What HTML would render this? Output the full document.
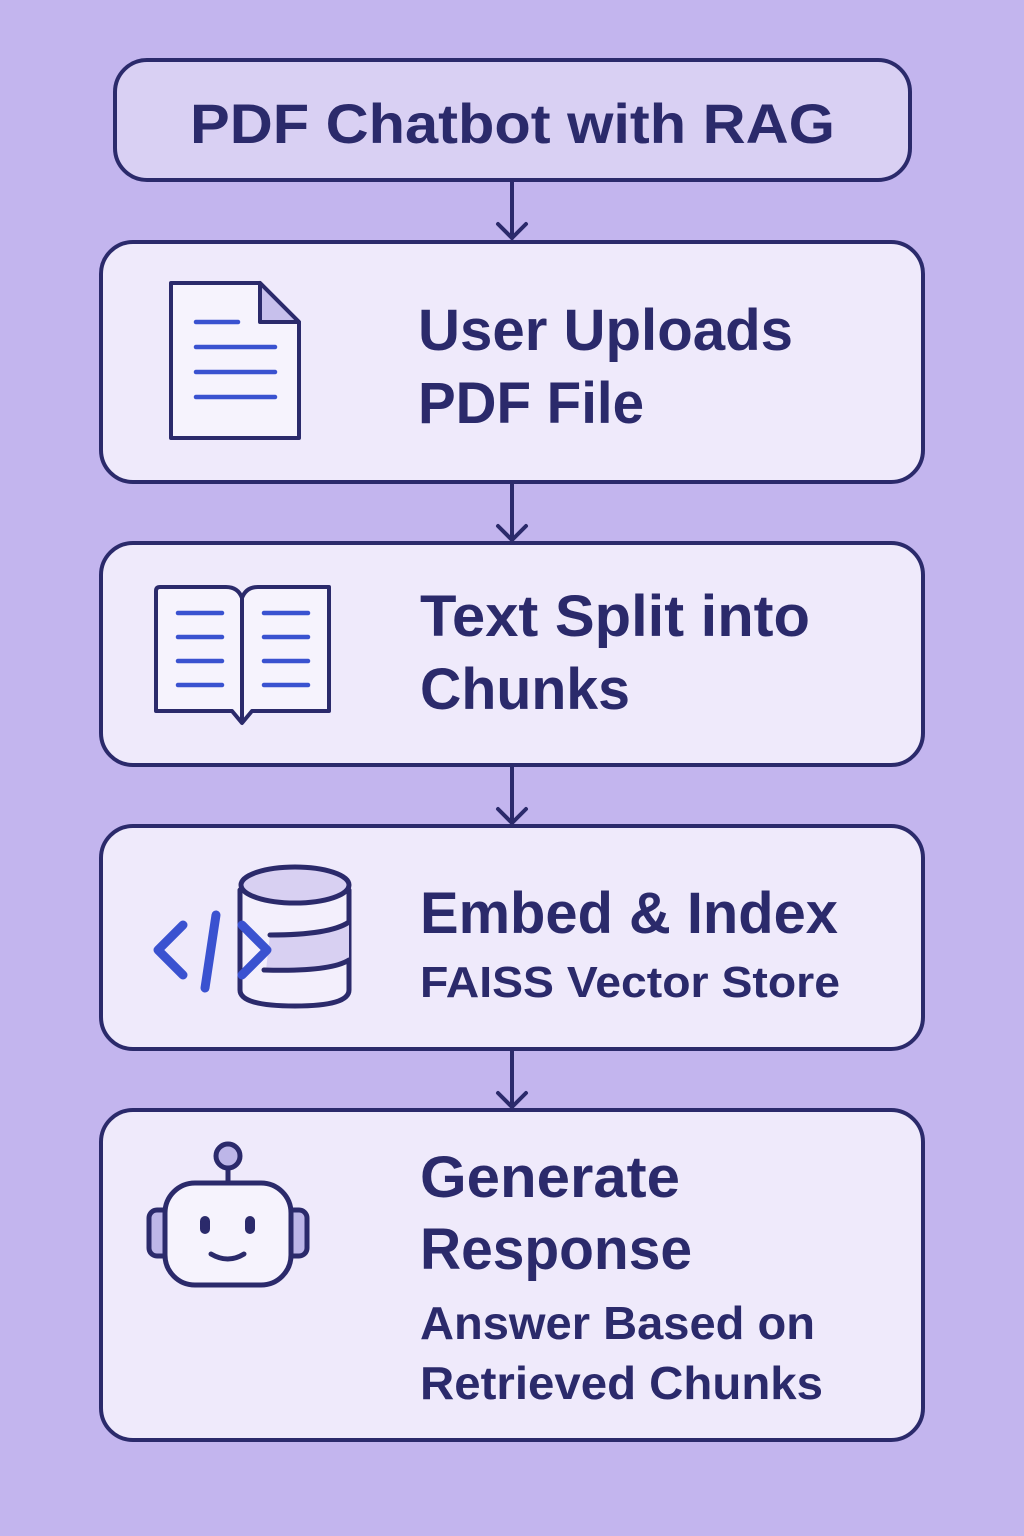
<!DOCTYPE html>
<html><head><meta charset="utf-8"><style>html,body{margin:0;padding:0;background:#c3b5ee}svg{display:block}</style></head>
<body>
<svg width="1024" height="1536" viewBox="0 0 1024 1536" xmlns="http://www.w3.org/2000/svg" font-family="Liberation Sans, sans-serif" font-weight="bold" fill="#2b2a6b">
<rect width="1024" height="1536" fill="#c3b5ee"/>
<g stroke="#2b2a6b" stroke-width="4" fill="none" stroke-linecap="round" stroke-linejoin="round">
<line x1="512" y1="180" x2="512" y2="238"/><polyline points="498,224 512,238 526,224"/>
<line x1="512" y1="482" x2="512" y2="540"/><polyline points="498,526 512,540 526,526"/>
<line x1="512" y1="765" x2="512" y2="823"/><polyline points="498,809 512,823 526,809"/>
<line x1="512" y1="1049" x2="512" y2="1107"/><polyline points="498,1093 512,1107 526,1093"/>
</g>
<g stroke="#2b2a6b" stroke-width="4">
<rect x="115" y="60" width="795" height="120" rx="32" fill="#d9d0f3"/>
<rect x="101" y="242" width="822" height="240" rx="32" fill="#efeafb"/>
<rect x="101" y="543" width="822" height="222" rx="32" fill="#efeafb"/>
<rect x="101" y="826" width="822" height="223" rx="32" fill="#efeafb"/>
<rect x="101" y="1110" width="822" height="330" rx="32" fill="#efeafb"/>
</g>
<text x="190" y="143" font-size="56" textLength="645" lengthAdjust="spacingAndGlyphs">PDF Chatbot with RAG</text>
<text x="418" y="350" font-size="58" textLength="375" lengthAdjust="spacingAndGlyphs">User Uploads</text>
<text x="418" y="423" font-size="58" textLength="226" lengthAdjust="spacingAndGlyphs">PDF File</text>
<text x="420" y="636" font-size="58" textLength="390" lengthAdjust="spacingAndGlyphs">Text Split into</text>
<text x="420" y="709" font-size="58" textLength="210" lengthAdjust="spacingAndGlyphs">Chunks</text>
<text x="420" y="933" font-size="58" textLength="418" lengthAdjust="spacingAndGlyphs">Embed &amp; Index</text>
<text x="420" y="997" font-size="44" textLength="420" lengthAdjust="spacingAndGlyphs">FAISS Vector Store</text>
<text x="420" y="1197" font-size="58" textLength="260" lengthAdjust="spacingAndGlyphs">Generate</text>
<text x="420" y="1269" font-size="58" textLength="272" lengthAdjust="spacingAndGlyphs">Response</text>
<text x="420" y="1339" font-size="46" textLength="395" lengthAdjust="spacingAndGlyphs">Answer Based on</text>
<text x="420" y="1399" font-size="46" textLength="403" lengthAdjust="spacingAndGlyphs">Retrieved Chunks</text>
<!-- doc icon -->
<g stroke="#2b2a6b" stroke-width="4" stroke-linejoin="round" stroke-linecap="round">
<path d="M171,283 H260 L299,322 V438 H171 Z" fill="#f6f3fd"/>
<path d="M260,283 V322 H299 Z" fill="#c7c0ec"/>
</g>
<g stroke="#3a52d0" stroke-width="4.5" stroke-linecap="round">
<line x1="196" y1="322" x2="238" y2="322"/><line x1="196" y1="347" x2="275" y2="347"/><line x1="196" y1="372" x2="275" y2="372"/><line x1="196" y1="397" x2="275" y2="397"/>
</g>
<!-- book icon -->
<g stroke="#2b2a6b" stroke-width="4" stroke-linejoin="round" fill="#f6f3fd">
<path d="M160,587 H226 Q238,587 242,598 Q246,587 258,587 H329 V711 H252 L242,723 L232,711 H156 V591 Q156,587 160,587 Z"/>
<line x1="242" y1="598" x2="242" y2="720"/>
</g>
<g stroke="#3a52d0" stroke-width="4.5" stroke-linecap="round">
<line x1="178" y1="613" x2="222" y2="613"/><line x1="178" y1="637" x2="222" y2="637"/><line x1="178" y1="661" x2="222" y2="661"/><line x1="178" y1="685" x2="222" y2="685"/>
<line x1="264" y1="613" x2="308" y2="613"/><line x1="264" y1="637" x2="308" y2="637"/><line x1="264" y1="661" x2="308" y2="661"/><line x1="264" y1="685" x2="308" y2="685"/>
</g>
<!-- database icon -->
<g stroke="#2b2a6b" stroke-width="5" fill="none" stroke-linecap="round">
<path d="M240,890 V990 Q240,1006 295,1006 Q349,1006 349,990 V890" fill="#f3effc"/>
<path d="M270,935 Q330,935 349,922 V962 Q330,972 266,970 Z" fill="#d8d0f2" stroke="none"/>
<ellipse cx="295" cy="885" rx="54" ry="18" fill="#d8d0f2"/>
<path d="M270,935 Q330,935 349,922"/>
<path d="M264,970 Q330,972 349,960"/>
</g>
<g stroke="#3a52d0" stroke-width="9" fill="none" stroke-linecap="round" stroke-linejoin="round">
<polyline points="183,925 158,950 183,975"/>
<line x1="216" y1="915" x2="205" y2="988"/>
<polyline points="242,925 267,950 242,975"/>
</g>
<!-- robot icon -->
<g stroke="#2b2a6b" stroke-width="5" stroke-linejoin="round">
<line x1="228" y1="1166" x2="228" y2="1184"/>
<circle cx="228" cy="1156" r="12" fill="#bdb6e8"/>
<rect x="149" y="1210" width="22" height="46" rx="8" fill="#bdb6e8"/>
<rect x="285" y="1210" width="22" height="46" rx="8" fill="#bdb6e8"/>
<rect x="165" y="1183" width="126" height="102" rx="30" fill="#f6f3fd"/>
</g>
<g fill="#2b2a6b">
<rect x="200" y="1216" width="10" height="18" rx="5"/><rect x="245" y="1216" width="10" height="18" rx="5"/>
</g>
<path d="M211,1254 Q228,1264 244,1254" stroke="#2b2a6b" stroke-width="5" fill="none" stroke-linecap="round"/>
</svg>
</body></html>
